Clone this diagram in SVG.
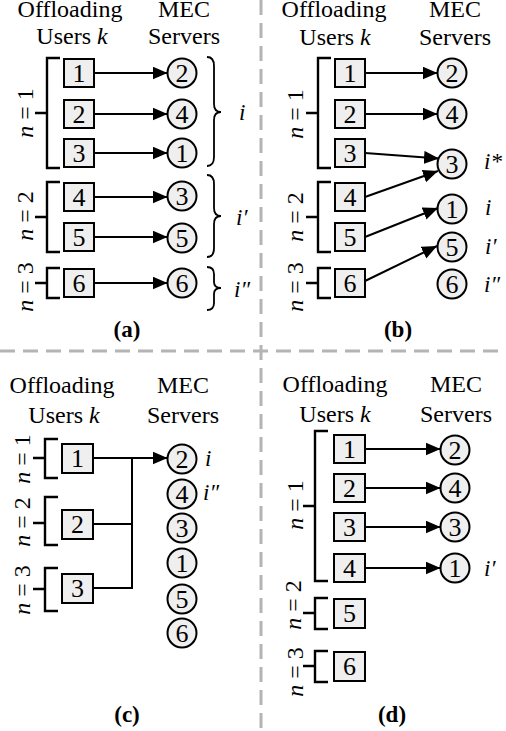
<svg xmlns="http://www.w3.org/2000/svg" width="506" height="731" viewBox="0 0 506 731" font-family="'Liberation Serif', 'Times New Roman', serif">
  <defs>
    <marker id="arrow" markerUnits="userSpaceOnUse" markerWidth="16" markerHeight="14" refX="15" refY="6.5" orient="auto">
      <path d="M0,0 L15,6.5 L0,13 z" fill="#000"/>
    </marker>
  </defs>
  <style>
    text { font-family: "Liberation Serif", "Times New Roman", serif; fill: #000; }
    .title { font-size: 24px; text-anchor: middle; }
    .num { font-size: 26px; text-anchor: middle; }
    .nlab { font-size: 24px; text-anchor: middle; }
    .idx { font-size: 23px; font-style: italic; }
    .cap { font-size: 23px; font-weight: bold; text-anchor: middle; }
    .box { fill: #efefef; stroke: #000; stroke-width: 2; }
    .srv { fill: #efefef; stroke: #000; stroke-width: 2; }
    .edge { fill: none; stroke: #000; stroke-width: 2; marker-end: url(#arrow); }
    .wire { fill: none; stroke: #000; stroke-width: 2; }
    .brk { fill: none; stroke: #000; stroke-width: 2.4; }
    .brace { fill: none; stroke: #000; stroke-width: 1.8; }
    .sep { fill: none; stroke: #b4b4b4; stroke-width: 3; stroke-dasharray: 15 8; }
  </style>

  <!-- panel separators -->
  <g id="separators">
    <path class="sep" d="M0,351 H506"/>
    <path class="sep" d="M261,0 V731"/>
  </g>

  <!-- ===== panel (a) ===== -->
  <g id="panel-a">
    <g id="a-headers">
      <text class="title" x="70" y="17">Offloading</text>
      <text class="title" x="72" y="44">Users <tspan font-style="italic">k</tspan></text>
      <text class="title" x="184" y="17">MEC</text>
      <text class="title" x="184" y="44">Servers</text>
    </g>
    <g id="a-groups">
      <path class="brk" d="M60,58 H47 V168 H60 M35,113 H47"/>
      <path class="brk" d="M60,182 H47 V252 H60 M35,217 H47"/>
      <path class="brk" d="M60,268 H47 V298 H60 M35,283 H47"/>
      <text class="nlab" transform="translate(33,113) rotate(-90)"><tspan font-style="italic">n</tspan> = 1</text>
      <text class="nlab" transform="translate(33,216) rotate(-90)"><tspan font-style="italic">n</tspan> = 2</text>
      <text class="nlab" transform="translate(33,287) rotate(-90)"><tspan font-style="italic">n</tspan> = 3</text>
    </g>
    <g id="a-user-1"><rect class="box" x="64" y="59" width="30" height="28"/><text class="num" x="79" y="82">1</text></g>
    <g id="a-user-2"><rect class="box" x="64" y="100" width="30" height="28"/><text class="num" x="79" y="123">2</text></g>
    <g id="a-user-3"><rect class="box" x="64" y="139" width="30" height="28"/><text class="num" x="79" y="162">3</text></g>
    <g id="a-user-4"><rect class="box" x="64" y="183" width="30" height="28"/><text class="num" x="79" y="206">4</text></g>
    <g id="a-user-5"><rect class="box" x="64" y="223" width="30" height="28"/><text class="num" x="79" y="246">5</text></g>
    <g id="a-user-6"><rect class="box" x="64" y="269" width="30" height="28"/><text class="num" x="79" y="292">6</text></g>
    <g id="a-server-2"><circle class="srv" cx="182" cy="73" r="14.5"/><text class="num" x="182" y="82">2</text></g>
    <g id="a-server-4"><circle class="srv" cx="182" cy="114" r="14.5"/><text class="num" x="182" y="123">4</text></g>
    <g id="a-server-1"><circle class="srv" cx="182" cy="153" r="14.5"/><text class="num" x="182" y="162">1</text></g>
    <g id="a-server-3"><circle class="srv" cx="182" cy="196" r="14.5"/><text class="num" x="182" y="205">3</text></g>
    <g id="a-server-5"><circle class="srv" cx="182" cy="238" r="14.5"/><text class="num" x="182" y="247">5</text></g>
    <g id="a-server-6"><circle class="srv" cx="182" cy="283" r="14.5"/><text class="num" x="182" y="292">6</text></g>
    <g id="a-braces">
      <path class="brace" d="M207,57 Q214,57 214,66 L214,104 Q214,112 221,112 Q214,112 214,120 L214,157 Q214,166 207,166"/>
      <path class="brace" d="M207,175 Q214,175 214,184 L214,208 Q214,216 221,216 Q214,216 214,224 L214,248 Q214,257 207,257"/>
      <path class="brace" d="M207,267 Q214,267 214,274 L214,282 Q214,288 221,288 Q214,288 214,294 L214,303 Q214,310 207,310"/>
      <text class="idx" x="239" y="120">i</text>
      <text class="idx" x="236" y="225">i′</text>
      <text class="idx" x="234" y="297">i″</text>
    </g>
    <text class="cap" x="127" y="337">(a)</text>
  </g>

  <!-- ===== panel (b) ===== -->
  <g id="panel-b">
    <g id="b-headers">
      <text class="title" x="334" y="17">Offloading</text>
      <text class="title" x="335" y="45">Users <tspan font-style="italic">k</tspan></text>
      <text class="title" x="455" y="17">MEC</text>
      <text class="title" x="455" y="45">Servers</text>
    </g>
    <g id="b-groups">
      <path class="brk" d="M331,58 H318 V168 H331 M306,113 H318"/>
      <path class="brk" d="M331,182 H318 V252 H331 M306,217 H318"/>
      <path class="brk" d="M331,268 H318 V298 H331 M306,283 H318"/>
      <text class="nlab" transform="translate(303,114) rotate(-90)"><tspan font-style="italic">n</tspan> = 1</text>
      <text class="nlab" transform="translate(303,217) rotate(-90)"><tspan font-style="italic">n</tspan> = 2</text>
      <text class="nlab" transform="translate(303,287) rotate(-90)"><tspan font-style="italic">n</tspan> = 3</text>
    </g>
    <g id="b-user-1"><rect class="box" x="335" y="59" width="30" height="28"/><text class="num" x="350" y="82">1</text></g>
    <g id="b-user-2"><rect class="box" x="335" y="100" width="30" height="28"/><text class="num" x="350" y="123">2</text></g>
    <g id="b-user-3"><rect class="box" x="335" y="139" width="30" height="28"/><text class="num" x="350" y="162">3</text></g>
    <g id="b-user-4"><rect class="box" x="335" y="183" width="30" height="28"/><text class="num" x="350" y="206">4</text></g>
    <g id="b-user-5"><rect class="box" x="335" y="223" width="30" height="28"/><text class="num" x="350" y="246">5</text></g>
    <g id="b-user-6"><rect class="box" x="335" y="269" width="30" height="28"/><text class="num" x="350" y="292">6</text></g>
    <g id="b-server-2"><circle class="srv" cx="452" cy="73" r="14.5"/><text class="num" x="452" y="82">2</text></g>
    <g id="b-server-4"><circle class="srv" cx="452" cy="114" r="14.5"/><text class="num" x="452" y="123">4</text></g>
    <g id="b-server-3"><circle class="srv" cx="452" cy="164" r="14.5"/><text class="num" x="452" y="173">3</text></g>
    <g id="b-server-1"><circle class="srv" cx="452" cy="209" r="14.5"/><text class="num" x="452" y="218">1</text></g>
    <g id="b-server-5"><circle class="srv" cx="452" cy="247" r="14.5"/><text class="num" x="452" y="256">5</text></g>
    <g id="b-server-6"><circle class="srv" cx="452" cy="284" r="14.5"/><text class="num" x="452" y="293">6</text></g>
    <g id="b-labels">
      <text class="idx" x="484" y="169">i*</text>
      <text class="idx" x="485" y="215">i</text>
      <text class="idx" x="485" y="254">i′</text>
      <text class="idx" x="484" y="292">i″</text>
    </g>
    <text class="cap" x="398" y="337">(b)</text>
  </g>

  <!-- ===== panel (c) ===== -->
  <g id="panel-c">
    <g id="c-headers">
      <text class="title" x="62" y="393">Offloading</text>
      <text class="title" x="64" y="423">Users <tspan font-style="italic">k</tspan></text>
      <text class="title" x="183" y="393">MEC</text>
      <text class="title" x="183" y="423">Servers</text>
    </g>
    <g id="c-groups">
      <path class="brk" d="M58,439 H45 V478 H58 M33,458 H45"/>
      <path class="brk" d="M58,497 H45 V545 H58 M33,523 H45"/>
      <path class="brk" d="M58,568 H45 V611 H58 M33,589 H45"/>
      <text class="nlab" transform="translate(30,459) rotate(-90)"><tspan font-style="italic">n</tspan> = 1</text>
      <text class="nlab" transform="translate(30,522) rotate(-90)"><tspan font-style="italic">n</tspan> = 2</text>
      <text class="nlab" transform="translate(30,590) rotate(-90)"><tspan font-style="italic">n</tspan> = 3</text>
    </g>
    <g id="c-user-1"><rect class="box" x="62" y="444" width="31" height="29"/><text class="num" x="77.5" y="467">1</text></g>
    <g id="c-user-2"><rect class="box" x="62" y="510" width="31" height="29"/><text class="num" x="77.5" y="533">2</text></g>
    <g id="c-user-3"><rect class="box" x="62" y="574" width="31" height="29"/><text class="num" x="77.5" y="597">3</text></g>
    <g id="c-server-2"><circle class="srv" cx="182" cy="459" r="14.5"/><text class="num" x="182" y="468">2</text></g>
    <g id="c-server-4"><circle class="srv" cx="182" cy="494" r="14.5"/><text class="num" x="182" y="503">4</text></g>
    <g id="c-server-3"><circle class="srv" cx="182" cy="528" r="14.5"/><text class="num" x="182" y="537">3</text></g>
    <g id="c-server-1"><circle class="srv" cx="182" cy="563" r="14.5"/><text class="num" x="182" y="572">1</text></g>
    <g id="c-server-5"><circle class="srv" cx="182" cy="599" r="14.5"/><text class="num" x="182" y="608">5</text></g>
    <g id="c-server-6"><circle class="srv" cx="182" cy="633" r="14.5"/><text class="num" x="182" y="642">6</text></g>
    <g id="c-labels">
      <text class="idx" x="205" y="466">i</text>
      <text class="idx" x="203" y="500">i″</text>
    </g>
    <text class="cap" x="127" y="722">(c)</text>
  </g>

  <!-- ===== panel (d) ===== -->
  <g id="panel-d">
    <g id="d-headers">
      <text class="title" x="335" y="392">Offloading</text>
      <text class="title" x="335" y="422">Users <tspan font-style="italic">k</tspan></text>
      <text class="title" x="456" y="392">MEC</text>
      <text class="title" x="456" y="422">Servers</text>
    </g>
    <g id="d-groups">
      <path class="brk" d="M328,431 H315 V581 H328 M303,506 H315"/>
      <path class="brk" d="M328,598 H315 V629 H328 M303,613 H315"/>
      <path class="brk" d="M328,651 H315 V682 H328 M303,666 H315"/>
      <text class="nlab" transform="translate(303,505) rotate(-90)"><tspan font-style="italic">n</tspan> = 1</text>
      <text class="nlab" transform="translate(301,605) rotate(-90)"><tspan font-style="italic">n</tspan> = 2</text>
      <text class="nlab" transform="translate(303,672) rotate(-90)"><tspan font-style="italic">n</tspan> = 3</text>
    </g>
    <g id="d-user-1"><rect class="box" x="334" y="435" width="31" height="28"/><text class="num" x="349.5" y="458">1</text></g>
    <g id="d-user-2"><rect class="box" x="334" y="474" width="31" height="28"/><text class="num" x="349.5" y="497">2</text></g>
    <g id="d-user-3"><rect class="box" x="334" y="513" width="31" height="28"/><text class="num" x="349.5" y="536">3</text></g>
    <g id="d-user-4"><rect class="box" x="334" y="554" width="31" height="28"/><text class="num" x="349.5" y="577">4</text></g>
    <g id="d-user-5"><rect class="box" x="334" y="599" width="31" height="29"/><text class="num" x="349.5" y="622">5</text></g>
    <g id="d-user-6"><rect class="box" x="334" y="652" width="31" height="29"/><text class="num" x="349.5" y="675">6</text></g>
    <g id="d-server-2"><circle class="srv" cx="455" cy="450" r="14.5"/><text class="num" x="455" y="459">2</text></g>
    <g id="d-server-4"><circle class="srv" cx="455" cy="488" r="14.5"/><text class="num" x="455" y="497">4</text></g>
    <g id="d-server-3"><circle class="srv" cx="455" cy="527" r="14.5"/><text class="num" x="455" y="536">3</text></g>
    <g id="d-server-1"><circle class="srv" cx="455" cy="568" r="14.5"/><text class="num" x="455" y="577">1</text></g>
    <text class="idx" x="484" y="576">i′</text>
    <text class="cap" x="392" y="722">(d)</text>
  </g>

  <!-- user-to-server assignments -->
  <g id="connectors">
    <!-- (a) -->
    <path class="edge" d="M94,73 H167.5"/>
    <path class="edge" d="M94,114 H167.5"/>
    <path class="edge" d="M94,153 H167.5"/>
    <path class="edge" d="M94,197 H167.5"/>
    <path class="edge" d="M94,237 H167.5"/>
    <path class="edge" d="M94,283 H167.5"/>
    <!-- (b) -->
    <path class="edge" d="M365,73 H437.5"/>
    <path class="edge" d="M365,114 H437.5"/>
    <path class="edge" d="M365,153 L439,158.5"/>
    <path class="edge" d="M365,197 L438,171"/>
    <path class="edge" d="M365,237 L438,208"/>
    <path class="edge" d="M365,281 L437,246"/>
    <!-- (c) -->
    <path class="wire" d="M93,524 H132"/>
    <path class="wire" d="M93,588 H132 V458"/>
    <path class="edge" d="M93,458 H167.5"/>
    <!-- (d) -->
    <path class="edge" d="M365,449 H440.5"/>
    <path class="edge" d="M365,488 H440.5"/>
    <path class="edge" d="M365,527 H440.5"/>
    <path class="edge" d="M365,568 H440.5"/>
  </g>
</svg>
